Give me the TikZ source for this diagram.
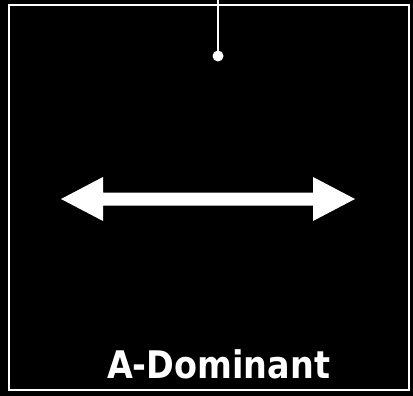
\documentclass[tikz,border=0pt]{standalone}
\usepackage{fontspec}
\setmainfont{DejaVu Sans}
\begin{document}
\begin{tikzpicture}[x=1pt,y=-1pt,
  wline/.style={draw=white,line width=2pt},
  lbl/.style={text=white,font=\bfseries\fontsize{38}{40}\selectfont,inner sep=0pt,anchor=base}]
\fill[black] (0,0) rectangle (413,396);
\useasboundingbox (0,0) rectangle (413,396);
\draw[wline] (9,5) rectangle (409,390);
\coordinate (top) at (218,0);
\coordinate (dot) at (218,56);
\draw[wline] (top) -- (dot);
\fill[white] (dot) circle (5.5);
% double arrow
\coordinate (L) at (61,199);
\coordinate (R) at (355,199);
\fill[white] (L) -- (103,177) -- (103,192.5) -- (313,192.5) -- (313,177) -- (R)
  -- (313,221) -- (313,205.5) -- (103,205.5) -- (103,221) -- cycle;
\node[lbl,xscale=0.88] (label) at (218.5,378) {A-Dominant};
\end{tikzpicture}
\end{document}
